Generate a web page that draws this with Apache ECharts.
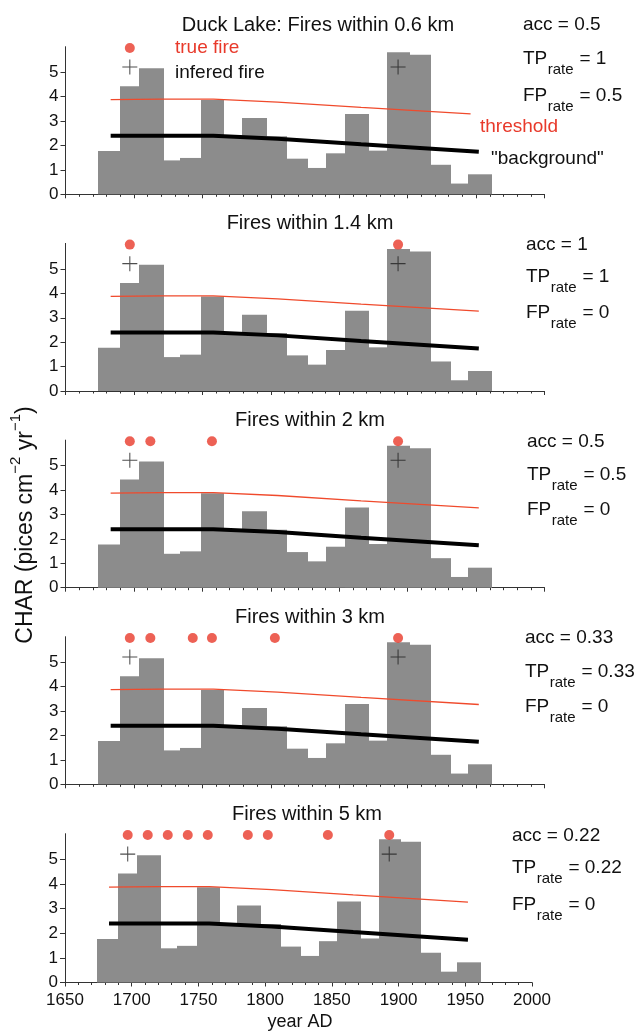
<!DOCTYPE html>
<html><head><meta charset="utf-8">
<script src="https://cdn.jsdelivr.net/npm/echarts@6/dist/echarts.min.js"></script>
<style>html,body{margin:0;padding:0;background:#fff}#c{width:635px;height:1033px}</style>
</head><body><div id="c"></div>
<script>
// ---------- data ----------
const binEdges = [1674,1690,1704,1722,1734,1749,1766,1779,1797,1812,1827,1840,1854,1872,1885,1902,1917,1932,1944,1962];
const charValues = [1.77,4.43,5.17,1.39,1.49,3.87,2.40,3.13,2.38,1.46,1.08,1.68,3.29,1.79,5.82,5.72,1.21,0.44,0.82];
const thresholdYears = [1683,1720,1758,1805,1866,1952];
const thresholdValues = [3.88,3.90,3.90,3.78,3.56,3.27];
const thresholdTopEnd = [1946,3.30];
const backgroundYears = [1683,1758,1805,1866,1952];
const backgroundValues = [2.40,2.40,2.28,2.05,1.74];
const inferredFireYears = [1697,1893];
const inferredFireLevel = 5.22;
const trueFireLevel = 6.0;
const trueFireYears = [
  [1697],
  [1697,1893],
  [1697,1712,1757,1893],
  [1697,1712,1743,1757,1803,1893],
  [1697,1712,1727,1742,1757,1787,1802,1847,1893]
];
const panelTitles = ['Duck Lake: Fires within 0.6 km','Fires within 1.4 km','Fires within 2 km','Fires within 3 km','Fires within 5 km'];
const accValues = ['0.5','1','0.5','0.33','0.22'];
const tpValues = ['1','1','0.5','0.33','0.22'];
const fpValues = ['0.5','0','0','0','0'];
const yTickValues = [0,1,2,3,4,5];
const xMin = 1650, xMax = 2000, xInterval = 50;

// ---------- layout ----------
const FONT = "'Liberation Sans', Arial, Helvetica, sans-serif";
const panels = [
  {left:65.5, top:46.7, width:479, height:147.6, title:[318,25], statX:523, stat:[25,58.6,95.5]},
  {left:65.5, top:243.4, width:479, height:147.6, title:[310,223], statX:526, stat:[245,277,313]},
  {left:65.5, top:440.1, width:479, height:147.6, title:[310,420], statX:527, stat:[442,475,510]},
  {left:65.5, top:636.7, width:479, height:147.6, title:[310,617], statX:525, stat:[638,672,707]},
  {left:65, top:833.7, width:467, height:148.8, title:[307,814], statX:512, stat:[836,868,905]}
];
const AX = '#333', TXT = '#111', RED = '#e8392a', LINE_RED = '#f04a2c', BAR = '#8c8c8c';
const plusPath = 'path://M-0.07,-1 H0.07 V-0.07 H1 V0.07 H0.07 V1 H-0.07 V0.07 H-1 V-0.07 H-0.07 Z';

const mctx = document.createElement('canvas').getContext('2d');
function tw(t, size){ mctx.font = size + 'px ' + FONT; return mctx.measureText(t).width; }

const barData = charValues.map((v,i)=>[binEdges[i], binEdges[i+1], v]);
const thrData = thresholdYears.map((y,i)=>[y, thresholdValues[i]]);
const thrTopData = thrData.filter(d=>d[0] < thresholdTopEnd[0]).concat([thresholdTopEnd]);
const bgData = backgroundYears.map((y,i)=>[y, backgroundValues[i]]);
const infData = inferredFireYears.map(y=>[y, inferredFireLevel]);

function txt(x, y, text, size, fill, align){
  return {type:'text', x:x, y:y, style:{text:text, fontSize:size, fontFamily:FONT, fill:fill||TXT, align:align||'left', verticalAlign:'middle'}};
}
function subText(x, y, main, sub, rest){
  const S=19, s=15;
  const w1 = tw(main, S), w2 = tw(sub, s);
  return [txt(x, y, main, S), txt(x + w1 + 0.5, y + 11, sub, s), txt(x + w1 + w2 + 1, y, rest, S)];
}

const grid=[], xAxis=[], yAxis=[], series=[], graphic=[];
panels.forEach((p,i)=>{
  grid.push({left:p.left, top:p.top, width:p.width, height:p.height, containLabel:false});
  xAxis.push({gridIndex:i, type:'value', min:xMin, max:xMax, interval:xInterval,
    axisLine:{show:true, onZero:false, lineStyle:{color:AX, width:1}},
    axisTick:{show:true, length:4, lineStyle:{color:AX, width:1}},
    minorTick:{show:true, splitNumber:5, length:2.5, lineStyle:{color:AX, width:1}},
    axisLabel:{show:i===4, fontSize:17, color:TXT, fontFamily:FONT, margin:9, formatter:v=>String(v)},
    splitLine:{show:false}, minorSplitLine:{show:false}});
  yAxis.push({gridIndex:i, type:'value', min:0, max:6.05, interval:1,
    axisLine:{show:true, onZero:false, lineStyle:{color:AX, width:1}},
    axisTick:{show:true, length:5, customValues:yTickValues, lineStyle:{color:AX, width:1}},
    axisLabel:{show:true, customValues:yTickValues, fontSize:17, color:TXT, fontFamily:FONT, margin:7},
    splitLine:{show:false}});
  series.push({type:'custom', xAxisIndex:i, yAxisIndex:i, data:barData, z:1,
    encode:{x:[0,1], y:2},
    renderItem:(params, api)=>{
      const a = api.coord([api.value(0), api.value(2)]);
      const b = api.coord([api.value(1), 0]);
      const x0 = Math.round(a[0]), x1 = Math.round(b[0]);
      return {type:'rect', shape:{x:x0, y:a[1], width:x1-x0, height:b[1]-a[1]}, style:{fill:BAR, stroke:null}};
    }});
  series.push({type:'line', xAxisIndex:i, yAxisIndex:i, data: i===0 ? thrTopData : thrData, symbol:'none', z:3,
    lineStyle:{color:LINE_RED, width:1.3}});
  series.push({type:'line', xAxisIndex:i, yAxisIndex:i, data:bgData, symbol:'none', z:4,
    lineStyle:{color:'#000', width:4}});
  series.push({type:'scatter', xAxisIndex:i, yAxisIndex:i, data:infData, symbol:plusPath, symbolSize:15, z:5,
    itemStyle:{color:'#222'}});
  series.push({type:'scatter', xAxisIndex:i, yAxisIndex:i, data:trueFireYears[i].map(y=>[y, trueFireLevel]),
    symbol:'circle', symbolSize:10, z:6, clip:false, itemStyle:{color:RED}});

  graphic.push(txt(p.title[0], p.title[1], panelTitles[i], 20, TXT, 'center'));
  graphic.push(txt(p.statX, p.stat[0], 'acc = ' + accValues[i], 19));
  subText(p.statX, p.stat[1], 'TP', 'rate', ' = ' + tpValues[i]).forEach(g=>graphic.push(g));
  subText(p.statX, p.stat[2], 'FP', 'rate', ' = ' + fpValues[i]).forEach(g=>graphic.push(g));
});

// legend-like labels in the top panel
graphic.push(txt(175, 47.5, 'true fire', 19, RED));
graphic.push(txt(175, 72.5, 'infered fire', 19, TXT));
graphic.push(txt(480, 127, 'threshold', 19, RED));
graphic.push(txt(491, 159, '"background"', 19, TXT));

// rotated y-axis name with superscripts
(function(){
  const M=23, s=15, rise=-10;
  const parts = [['CHAR (pices cm', M, 0], ['\u22122', s, rise], [' yr', M, 0], ['\u22121', s, rise], [')', M, 0]];
  const widths = parts.map(p=>tw(p[0], p[1]));
  const total = widths.reduce((a,b)=>a+b, 0);
  let cx = -total/2;
  const children = parts.map((p,k)=>{
    const el = {type:'text', x:cx, y:p[2], style:{text:p[0], fontSize:p[1], fontFamily:FONT, fill:TXT, align:'left', verticalAlign:'middle'}};
    cx += widths[k];
    return el;
  });
  graphic.push({type:'group', x:26, y:525, rotation:Math.PI/2, children:children});
})();
graphic.push(txt(300, 1022, 'year AD', 18, TXT, 'center'));

const chart = echarts.init(document.getElementById('c'), null, {renderer:'canvas'});
chart.setOption({animation:false, backgroundColor:'#fff', grid, xAxis, yAxis, series, graphic});
</script></body></html>
